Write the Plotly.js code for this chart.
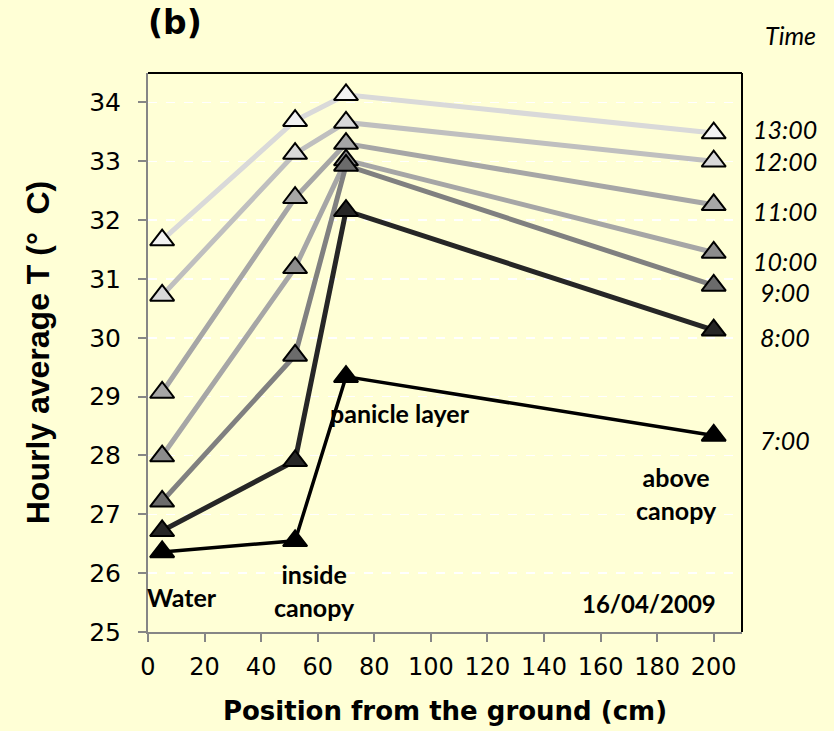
<!DOCTYPE html>
<html>
<head>
<meta charset="utf-8">
<script src="https://cdn.plot.ly/plotly-3.0.1.min.js"></script>
<style>
  html, body { margin: 0; padding: 0; background: #ffffd6; }
  #chart { width: 834px; height: 731px; }
</style>
</head>
<body>
<div id="chart"></div>
<script>
// Sensor heights above the ground (cm)
const positions = [5, 52, 70, 200];

// Hourly average air temperature (°C) at each height, 16/04/2009
const t0700 = [26.36, 26.55, 29.34, 28.34];
const t0800 = [26.72, 27.91, 32.16, 30.13];
const t0900 = [27.22, 29.70, 32.93, 30.89];
const t1000 = [27.99, 31.19, 33.02, 31.45];
const t1100 = [29.07, 32.38, 33.30, 32.26];
const t1200 = [30.72, 33.13, 33.66, 33.00];
const t1300 = [31.66, 33.69, 34.13, 33.48];

const hours = ["13:00", "12:00", "11:00", "10:00", "9:00", "8:00", "7:00"];
const seriesByHour = [t1300, t1200, t1100, t1000, t0900, t0800, t0700];

// Grey ramp: later hours lighter
const lineColors   = ["#d9d9d9", "#bfbfbf", "#a6a6a6", "#a6a6a6", "#808080", "#262626", "#000000"];
const markerColors = ["#f2f2f2", "#d9d9d9", "#a6a6a6", "#8c8c8c", "#6b6b6b", "#262626", "#000000"];
const lineWidths   = [5, 5, 5, 5, 5, 5, 3.5];

// Vertical placement of the hour labels on the right side
const hourLabelY = [33.54, 33.0, 32.15, 31.3, 30.77, 30.02, 28.27];

// Position labels inside the plot
const placeText = ["Water", "inside<br>canopy", "panicle layer", "above<br>canopy"];
const placeX = [12, 59, 89, 187];
const placeY = [25.6, 25.7, 28.73, 27.35];

const traces = seriesByHour.map((vals, i) => ({
  type: "scatter",
  mode: "lines+markers",
  name: hours[i],
  x: positions,
  y: vals,
  line: { color: lineColors[i], width: lineWidths[i] },
  marker: {
    symbol: "triangle-up",
    size: 21,
    color: markerColors[i],
    line: { color: "#000000", width: 2 }
  },
  cliponaxis: false,
  showlegend: false
}));

const boldLabel = { family: "Lato, 'DejaVu Sans', sans-serif", size: 25, color: "#000000" };
const italicLabel = { family: "Lato, 'DejaVu Sans', sans-serif", size: 25, color: "#000000", style: "italic" };

const annotations = [];
placeText.forEach((txt, i) => {
  annotations.push({
    xref: "x", yref: "y", x: placeX[i], y: placeY[i],
    xanchor: "center", yanchor: "middle",
    text: "<b>" + txt + "</b>", showarrow: false,
    font: boldLabel, align: "center"
  });
});
annotations.push({
  xref: "x", yref: "y", x: 177, y: 25.49,
  xanchor: "center", yanchor: "middle",
  text: "<b>16/04/2009</b>", showarrow: false,
  font: { family: "Lato, 'DejaVu Sans', sans-serif", size: 24, color: "#000000" }
});
hours.forEach((h, i) => {
  annotations.push({
    xref: "paper", yref: "y", x: 1.072, y: hourLabelY[i],
    xanchor: "center", yanchor: "middle",
    text: "<i>" + h + "</i>", showarrow: false, font: italicLabel
  });
});
annotations.push({
  xref: "paper", yref: "paper", x: 1.081, y: 1.068,
  xanchor: "center", yanchor: "middle",
  text: "<i>Time</i>", showarrow: false, font: italicLabel
});
annotations.push({
  xref: "paper", yref: "paper", x: 0.045, y: 1.09,
  xanchor: "center", yanchor: "middle",
  text: "<b>(b)</b>", showarrow: false,
  font: { family: "'DejaVu Sans', sans-serif", size: 33, color: "#000000" }
});

const layout = {
  width: 834,
  height: 731,
  paper_bgcolor: "#ffffd6",
  plot_bgcolor: "#ffffd6",
  margin: { l: 148, r: 92, t: 73, b: 99 },
  showlegend: false,
  xaxis: {
    range: [0, 210],
    tick0: 0, dtick: 20,
    showgrid: false, zeroline: false,
    showline: true, linecolor: "#868686", linewidth: 2,
    ticks: "outside", ticklen: 8, tickwidth: 2, tickcolor: "#868686",
    ticklabelstandoff: 4,
    tickfont: { family: "'DejaVu Sans', sans-serif", size: 24, color: "#000000" },
    title: {
      text: "<b>Position from the ground (cm)</b>",
      font: { family: "'DejaVu Sans', sans-serif", size: 26, color: "#000000" },
      standoff: 22
    }
  },
  yaxis: {
    range: [25, 34.5],
    tick0: 25, dtick: 1,
    showgrid: true, gridcolor: "#ffffff", gridwidth: 1.5, griddash: "dash",
    zeroline: false,
    showline: true, linecolor: "#868686", linewidth: 2,
    ticks: "outside", ticklen: 8, tickwidth: 2, tickcolor: "#868686",
    ticklabelstandoff: 12,
    tickfont: { family: "'DejaVu Sans', sans-serif", size: 25, color: "#000000" },
    title: {
      text: "<b>Hourly average T (°\u00a0\u00a0C)</b>",
      font: { family: "'Liberation Sans', Arial, sans-serif", size: 32, color: "#000000" },
      standoff: 30
    }
  },
  shapes: [
    { type: "line", xref: "paper", yref: "paper", x0: 0, x1: 1, y0: 1, y1: 1,
      line: { color: "#000000", width: 2 } },
    { type: "line", xref: "paper", yref: "paper", x0: 1, x1: 1, y0: 0, y1: 1,
      line: { color: "#000000", width: 2 } }
  ],
  annotations: annotations
};

Plotly.newPlot("chart", traces, layout, { displayModeBar: false, staticPlot: true });
</script>
</body>
</html>
